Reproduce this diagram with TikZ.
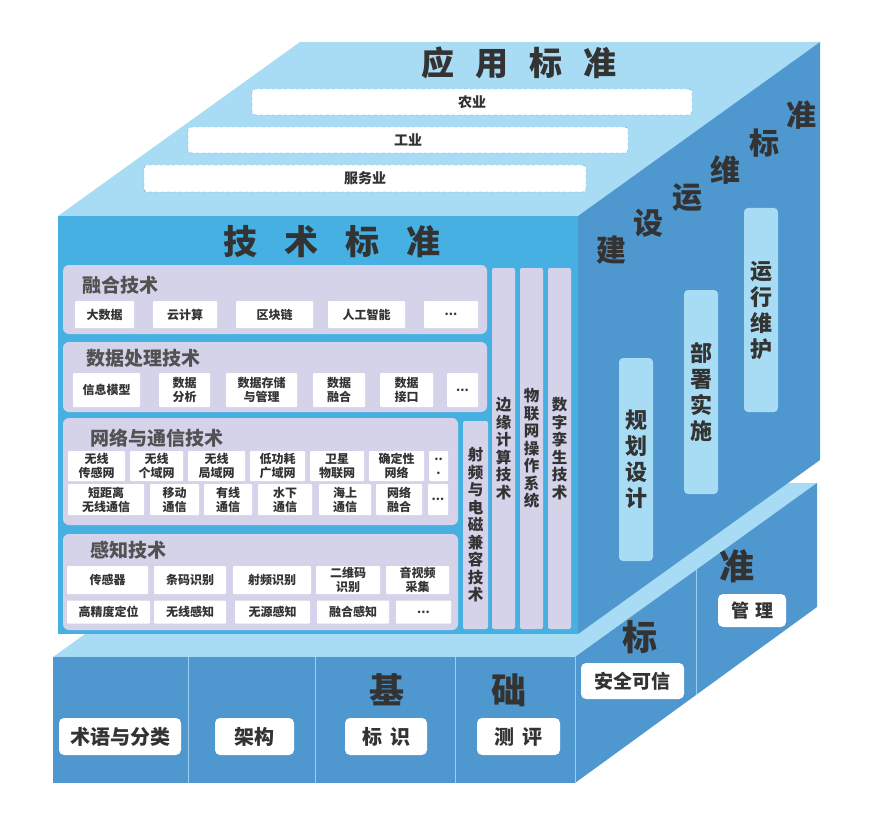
\documentclass[tikz,border=0pt]{standalone}
\usepackage{fontspec}
\setmainfont{Noto Sans CJK SC}
\definecolor{topface}{HTML}{A8DCF4}
\definecolor{frontface}{HTML}{46B0E3}
\definecolor{sideface}{HTML}{4F97CF}
\definecolor{edgeline}{HTML}{9CCFEF}
\definecolor{lav}{HTML}{D5D3EA}
\definecolor{ink}{HTML}{333333}
\definecolor{dashblue}{HTML}{4A9CD8}
\newcommand{\fs}[2]{\fontsize{#1}{#2}\selectfont\bfseries}
\newcommand{\gap}[1]{\hspace{#1pt}}
\newcommand{\etc}{...}
\newcommand{\etcbroken}{..\\.}

\tikzset{
  panel/.style={fill=lav, rounded corners=6pt, inner sep=0pt},
  ptitle/.style={anchor=west, text=ink!85, font=\fs{19}{21}, inner sep=0pt},
  cell/.style={fill=white, rounded corners=1pt, inner sep=0pt, align=center,
               text=ink, font=\fs{12}{14}},
  vpanel/.style={fill=lav, rounded corners=2pt, inner sep=0pt, align=center,
                 text=ink, font=\fs{15.5}{17.5}},
  bar/.style={fill=topface, rounded corners=4pt, inner sep=0pt, align=center,
              text=ink, font=\fs{22}{26}},
  appbox/.style={fill=white, draw=dashblue, dashed, rounded corners=3pt,
                 inner sep=0pt, text=ink, font=\fs{14}{16}},
  basebox/.style={fill=white, rounded corners=5pt, inner sep=0pt,
                  text=ink, font=\fs{20}{22}},
  bigchar/.style={text=ink, font=\fs{35}{35}, inner sep=0pt},
}

\begin{document}
\begin{tikzpicture}[x=1pt,y=-1pt]
  \useasboundingbox (0,0) rectangle (883,813);
  % lower block (base)
  \fill[topface] (53,657) -- (295,483) -- (817,483) -- (575,657) -- cycle;
  \fill[sideface] (53,657) rectangle (575,783);
  \fill[sideface] (575,657) -- (817,483) -- (817,607) -- (575,783) -- cycle;
  \foreach \x in {188,315,455,575}
    \draw[edgeline, line width=0.8pt] (\x,657) -- (\x,783);
  \draw[edgeline, line width=0.8pt] (696,570) -- (696,695);
  % upper block
  \fill[topface] (58,216) -- (300,42) -- (820,42) -- (578,216) -- cycle;
  \fill[frontface] (58,216) rectangle (578,634);
  \fill[sideface] (578,216) -- (820,42) -- (820,460) -- (578,634) -- cycle;

  % top face: application standards
  \node[text=ink, font=\fs{33}{33}, inner sep=0pt] (apptitle) at (519,63)
    {应\gap{21}用\gap{21}标\gap{21}准};
  \node[appbox, minimum width=440, minimum height=26] (agri) at (472,102) {农业};
  \node[appbox, minimum width=440, minimum height=26] (indu) at (408,140) {工业};
  \node[appbox, minimum width=442, minimum height=27] (serv) at (365,178.5) {服务业};

  % front face: technical standards
  \node[text=ink, font=\fs{34}{34}, inner sep=0pt] (techtitle) at (332,242)
    {技\gap{27}术\gap{27}标\gap{27}准};

  \node[panel, minimum width=424, minimum height=69] (fusion) at (275,299.5) {};
  \node[ptitle] (fusiont) at (82,285) {融合技术};
  \foreach \a/\b/\t [count=\i] in {75/134/大数据, 153/217/云计算, 236/313/区块链,
      328/405/人工智能, 424/478/\etc}
    \node[cell, minimum width={\b-\a}, minimum height=27] (fus\i) at ({(\a+\b)/2},314.5) {\t};

  \node[panel, minimum width=424, minimum height=70] (data) at (275,377) {};
  \node[ptitle] (datat) at (86,358) {数据处理技术};
  \foreach \a/\b/\t [count=\i] in {73/140/信息模型, 159/210/{数据\\分析},
      226/297/{数据存储\\与管理}, 313/365/{数据\\融合}, 380/433/{数据\\接口}, 447/478/\etc}
    \node[cell, minimum width={\b-\a}, minimum height=34] (dat\i) at ({(\a+\b)/2},390) {\t};

  \node[panel, minimum width=395, minimum height=107] (net) at (260.5,471.5) {};
  \node[ptitle] (nett) at (90,438) {网络与通信技术};
  \foreach \a/\b/\t [count=\i] in {68/125/{无线\\传感网}, 130/183/{无线\\个域网},
      188/245/{无线\\局域网}, 250/305/{低功耗\\广域网}, 310/364/{卫星\\物联网},
      369/424/{确定性\\网络}, 429/448/\etcbroken}
    \node[cell, minimum width={\b-\a}, minimum height=30] (neta\i) at ({(\a+\b)/2},466) {\t};
  \foreach \a/\b/\t [count=\i] in {68/144/{短距离\\无线通信}, 150/199/{移动\\通信},
      204/252/{有线\\通信}, 258/312/{水下\\通信}, 319/371/{海上\\通信},
      376/422/{网络\\融合}, 428/448/\etc}
    \node[cell, minimum width={\b-\a}, minimum height=31] (netb\i) at ({(\a+\b)/2},499.5) {\t};

  \node[panel, minimum width=395, minimum height=96] (sense) at (260.5,582) {};
  \node[ptitle] (senset) at (90,550) {感知技术};
  \foreach \a/\b/\t [count=\i] in {67/148/传感器, 154/226/条码识别, 233/311/射频识别,
      316/380/{二维码\\识别}, 386/449/{音视频\\采集}}
    \node[cell, minimum width={\b-\a}, minimum height=28] (sena\i) at ({(\a+\b)/2},580) {\t};
  \foreach \a/\b/\t [count=\i] in {67/150/高精度定位, 154/226/无线感知, 235/310/无源感知,
      317/389/融合感知, 396/451/\etc}
    \node[cell, minimum width={\b-\a}, minimum height=23] (senb\i) at ({(\a+\b)/2},612) {\t};

  \node[vpanel, minimum width=25, minimum height=208] (rf) at (475.5,525)
    {射\\频\\与\\电\\磁\\兼\\容\\技\\术};
  \node[vpanel, minimum width=23, minimum height=361] (edge) at (503.5,448.5)
    {边\\缘\\计\\算\\技\\术};
  \node[vpanel, minimum width=23, minimum height=361] (iotos) at (531.5,448.5)
    {物\\联\\网\\操\\作\\系\\统};
  \node[vpanel, minimum width=23, minimum height=361] (twin) at (559.5,448.5)
    {数\\字\\孪\\生\\技\\术};

  % side face: construction and operation standards
  \foreach \t/\x/\y [count=\i] in {建/611/250, 设/648/223, 运/687/198,
      维/725/170, 标/764/143, 准/801/115}
    \node[text=ink, font=\fs{30}{30}, inner sep=0pt] (ops\i) at (\x,\y) {\t};
  \node[bar, minimum width=34, minimum height=203] (plan) at (636,459.5) {规\\划\\设\\计};
  \node[bar, minimum width=34, minimum height=204] (deploy) at (701,392) {部\\署\\实\\施};
  \node[bar, minimum width=34, minimum height=204] (maint) at (761,310) {运\\行\\维\\护};

  % base: basic standards
  \node[bigchar] (baseji) at (387,690) {基};
  \node[bigchar] (basechu) at (509,690) {础};
  \node[basebox, minimum width=122, minimum height=37] (term) at (120,736.5) {术语与分类};
  \node[basebox, minimum width=79, minimum height=37] (arch) at (254.5,736.5) {架构};
  \node[basebox, minimum width=82, minimum height=37] (ident) at (386,736.5) {标\gap{8}识};
  \node[basebox, minimum width=83, minimum height=37] (evalu) at (518.5,736.5) {测\gap{8}评};

  % base side: security and management
  \node[bigchar] (sidebiao) at (640,637) {标};
  \node[bigchar] (sidezhun) at (737,566) {准};
  \node[basebox, minimum width=103, minimum height=36, font=\fs{19}{21}] (secure) at (632.5,681) {安全可信};
  \node[basebox, minimum width=68, minimum height=33, font=\fs{18}{20}] (manage) at (752,610.5) {管\gap{6}理};
\end{tikzpicture}
\end{document}
